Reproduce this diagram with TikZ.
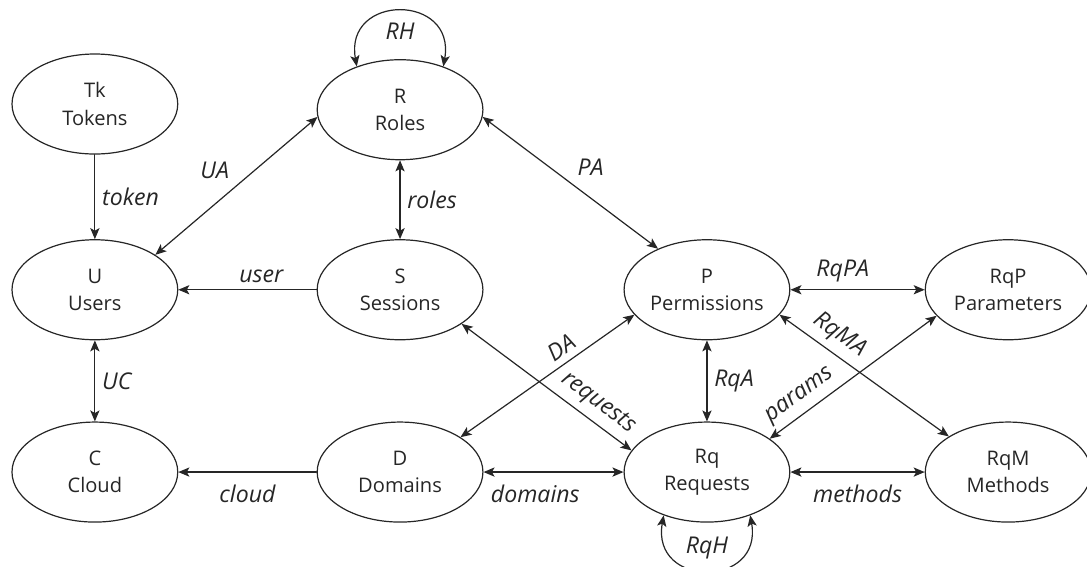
\documentclass[tikz,border=0pt]{standalone}
\usepackage{fontspec}
\setmainfont{Open Sans}
\usetikzlibrary{shapes.geometric,arrows.meta}

\begin{document}
\begin{tikzpicture}[line cap=round,line join=round,
  >={Stealth[length=5.5pt,width=4.6pt,inset=1.3pt]},
  every node/.style={text=black!85},
  entity/.style={draw=black!85,ellipse,semithick,minimum width=2.9cm,minimum height=1.75cm,
    inner sep=0pt,align=center,font=\fontsize{10}{13.5}\selectfont},
  rel/.style={semithick,black!85},
  lbl/.style={font=\fontsize{11.5}{13}\selectfont\itshape}]

\useasboundingbox (0,0) rectangle (19.02,9.92);

% -----------------------
% Entities
% -----------------------
\node[entity] (Tk)  at (1.66,8.10)  {Tk\\Tokens};
\node[entity] (R)   at (7.00,8.00)  {R\\Roles};
\node[entity] (U)   at (1.66,4.85)  {U\\Users};
\node[entity] (S)   at (7.00,4.85)  {S\\Sessions};
\node[entity] (P)   at (12.37,4.85) {P\\Permissions};
\node[entity] (RqP) at (17.64,4.85) {RqP\\Parameters};
\node[entity] (C)   at (1.66,1.66)  {C\\Cloud};
\node[entity] (D)   at (7.00,1.66)  {D\\Domains};
\node[entity] (Rq)  at (12.37,1.66) {Rq\\Requests};
\node[entity] (RqM) at (17.64,1.66) {RqM\\Methods};

% -----------------------
% Relations
% -----------------------
\draw[rel,->]  (Tk) -- (U) node[lbl,midway,right] {token};
\draw[rel,<->] (U.30) -- (R.185) node[lbl,midway,above left] {UA};
\draw[rel,<->] (R) -- (S) node[lbl,midway,right] {roles};
\draw[rel,->]  (S) -- (U) node[lbl,pos=0.4,above] {user};
\draw[rel,<->] (R.-5) -- (P.140) node[lbl,midway,above right] {PA};
\draw[rel,<->] (U) -- (C) node[lbl,midway,right] {UC};
\draw[rel,->]  (D) -- (C) node[lbl,midway,below=3pt] {cloud};
\draw[rel,<->] (D) -- (Rq) node[lbl,pos=0.37,below=3pt] {domains};
\draw[rel,<->] (D.30) -- (P.-161) node[lbl,pos=0.63,sloped,above] {DA};
\draw[rel,<->] (S.-29) -- (Rq.164) node[lbl,pos=0.74,sloped,above] {requests};
\draw[rel,<->] (P) -- (Rq) node[lbl,midway,right] {RqA};
\draw[rel,<->] (P) -- (RqP) node[lbl,pos=0.39,above] {RqPA};
\draw[rel,<->] (P.-19) -- (RqM.149) node[lbl,pos=0.29,sloped,above] {RqMA};
\draw[rel,<->] (Rq.28) -- (RqP.-160) node[lbl,pos=0.24,sloped,above] {params};
\draw[rel,<->] (Rq) -- (RqM) node[lbl,midway,below=3pt] {methods};

% Hierarchies (loops)
\draw[rel,<->] (R.135) to[out=100,in=80,looseness=2.2] node[lbl,below=2pt] {RH} (R.45);
\draw[rel,<->] (Rq.-135) to[out=-100,in=-80,looseness=2.2] node[lbl,above=2pt] {RqH} (Rq.-45);

\end{tikzpicture}
\end{document}
